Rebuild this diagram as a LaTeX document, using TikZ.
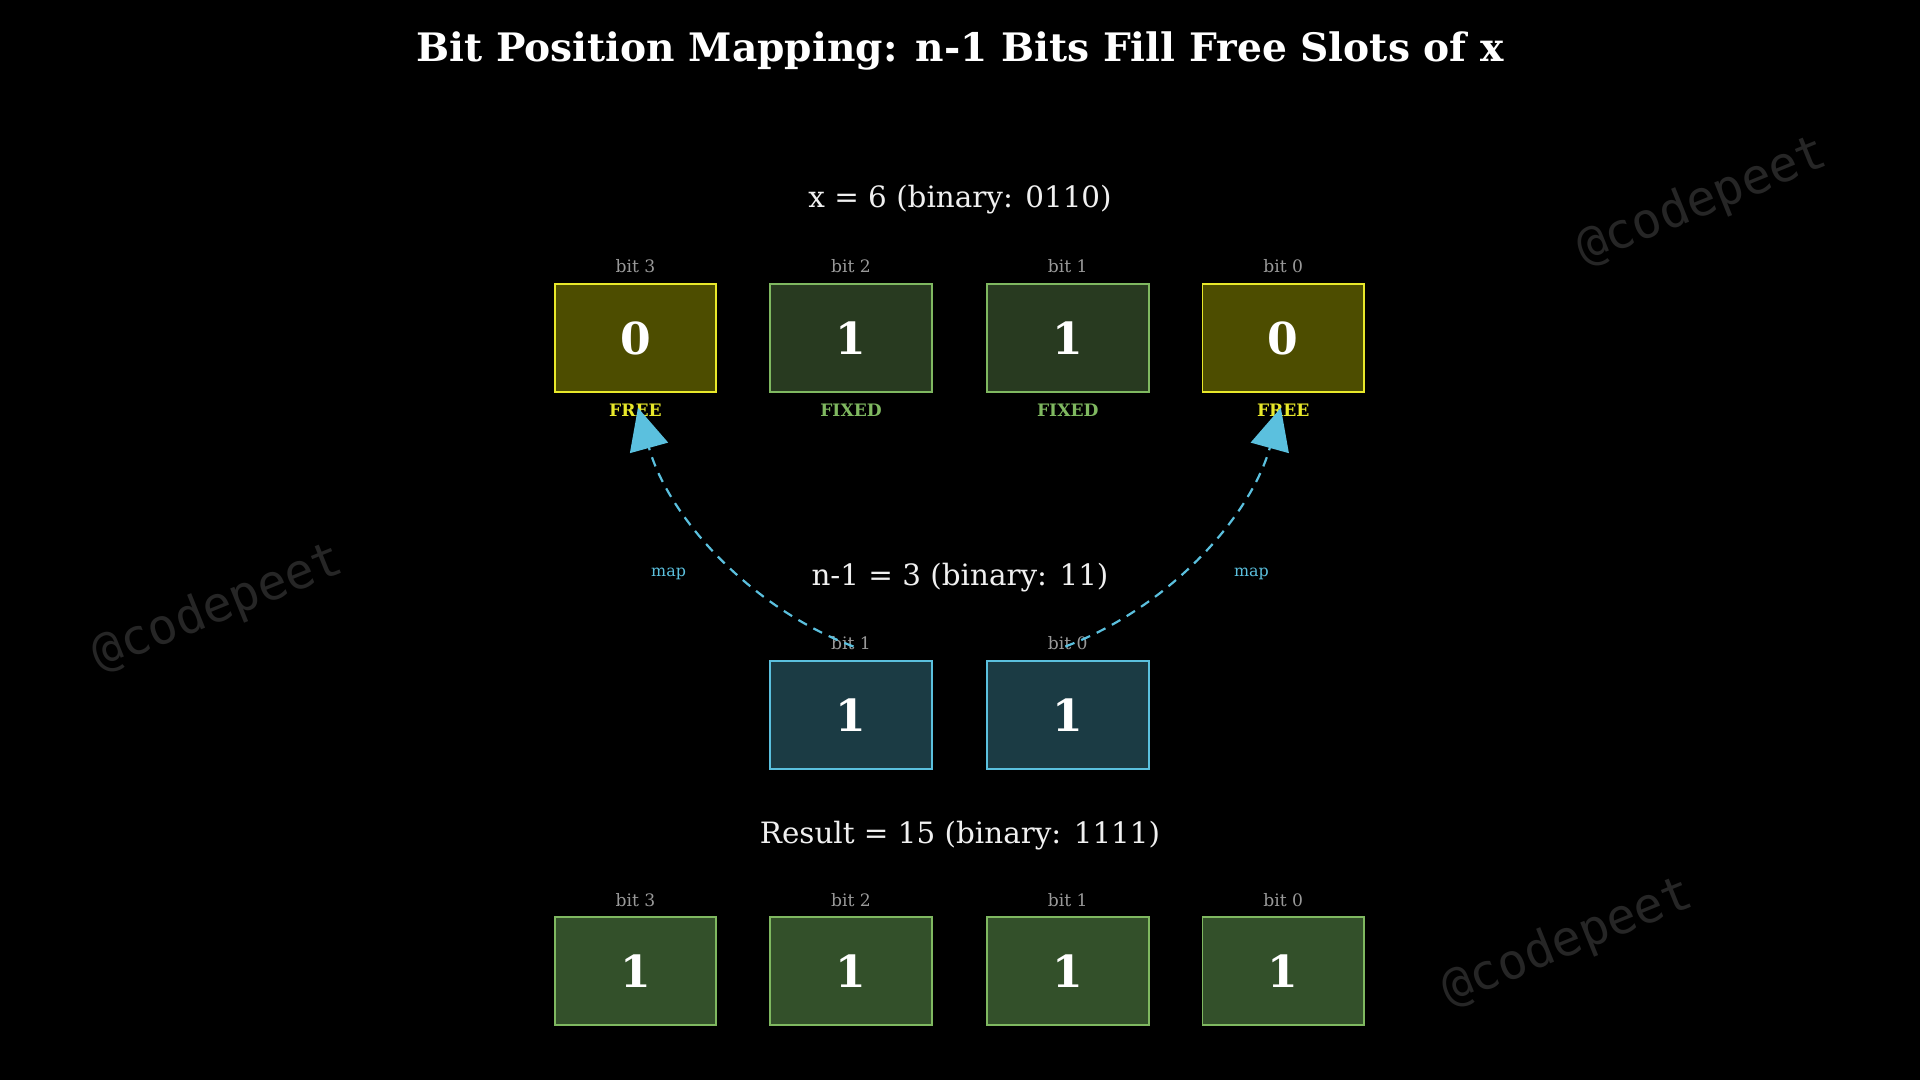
\documentclass[tikz,border=0pt]{standalone}
\usepackage{fontspec}
\setmainfont{DejaVu Serif}
\newfontfamily\wm{DejaVu Sans Mono}
\usetikzlibrary{arrows.meta}
\definecolor{freefill}{HTML}{4D4D00}\definecolor{freeline}{HTML}{E8E82A}
\definecolor{fixfill}{HTML}{283A20}\definecolor{fixline}{HTML}{7FB860}
\definecolor{midfill}{HTML}{1B3B44}\definecolor{cyanl}{HTML}{5BC0DE}
\definecolor{resfill}{HTML}{33502A}\definecolor{wmc}{HTML}{262626}
\begin{document}
\begin{tikzpicture}[x=1pt,y=-1pt,
 box/.style={minimum width=132pt,minimum height=88pt,draw,line width=1.5pt,inner sep=0pt,text=white,font=\fontsize{36}{36}\selectfont\bfseries},
 free/.style={box,fill=freefill,draw=freeline},
 fix/.style={box,fill=fixfill,draw=fixline},
 mid/.style={box,fill=midfill,draw=cyanl},
 res/.style={box,fill=resfill,draw=fixline},
 bl/.style={text=gray!80,font=\fontsize{14}{14}\selectfont},
 sub/.style={text=white!88!gray,font=\fontsize{24}{24}\selectfont},
 tag/.style={font=\fontsize{14}{14}\selectfont\bfseries},
 wmk/.style={text=wmc,font=\wm\fontsize{40}{40}\selectfont,rotate=22},
 arr/.style={cyanl,line width=1.8pt,dash pattern=on 8pt off 6pt,-{Triangle[length=34pt,width=32pt]}}]
\fill[black] (0,0) rectangle (1568,882);
\node[wmk] (w1) at (1390,165) {@codepeet};
\node[wmk] (w2) at (178,497) {@codepeet};
\node[wmk] (w3) at (1280,770) {@codepeet};
\node[text=white,font=\fontsize{32}{32}\selectfont\bfseries] (title) at (784,42) {Bit Position Mapping: n-1 Bits Fill Free Slots of x};
\node[sub] (s1) at (784,163) {x = 6 (binary: 0110)};
\node[sub] (s2) at (784,472) {n-1 = 3 (binary: 11)};
\node[sub] (s3) at (784,682) {Result = 15 (binary: 1111)};
\node[free] (a3) at (519,276) {0};
\node[fix] (a2) at (695,276) {1};
\node[fix] (a1) at (872,276) {1};
\node[free] (a0) at (1048,276) {0};
\foreach \n/\x/\b in {a3/519/3,a2/695/2,a1/872/1,a0/1048/0}{\node[bl] (l\n) at (\x,217) {bit \b};}
\node[tag,text=freeline] (t3) at (519,335) {FREE};
\node[tag,text=fixline] (t2) at (695,335) {FIXED};
\node[tag,text=fixline] (t1) at (872,335) {FIXED};
\node[tag,text=freeline] (t0) at (1048,335) {FREE};
\node[mid] (b1) at (695,584) {1};
\node[mid] (b0) at (872,584) {1};
\node[bl] (lb1) at (695,525) {bit 1};
\node[bl] (lb0) at (872,525) {bit 0};
\node[res] (c3) at (519,793) {1};
\node[res] (c2) at (695,793) {1};
\node[res] (c1) at (872,793) {1};
\node[res] (c0) at (1048,793) {1};
\foreach \n/\x/\b in {c3/519/3,c2/695/2,c1/872/1,c0/1048/0}{\node[bl] (l\n) at (\x,735) {bit \b};}
\coordinate (p1) at (697,528);
\coordinate (p0) at (870,528);
\coordinate (q3) at (521,333);
\coordinate (q0) at (1046,333);
\draw[arr] (p1) .. controls (610,495) and (545,420) .. (q3);
\draw[arr] (p0) .. controls (957,495) and (1022,420) .. (q0);
\node[text=cyanl,font=\fontsize{13}{13}\selectfont] (m1) at (546,469) {map};
\node[text=cyanl,font=\fontsize{13}{13}\selectfont] (m0) at (1022,469) {map};
\end{tikzpicture}
\end{document}
